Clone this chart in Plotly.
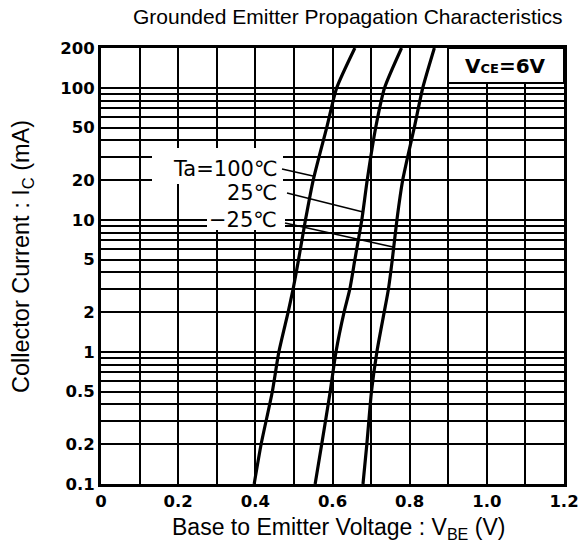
import plotly.graph_objects as go

# ---------------- data ----------------
title_text = "Grounded Emitter Propagation Characteristics"
x_title = "Base to Emitter Voltage : V<sub>BE</sub> (V)"
y_title = "Collector Current : I<sub>C</sub> (mA)"

ic_ma = [0.1, 0.2, 0.5, 1, 2, 3, 5, 10, 20, 50, 100, 200]
vbe_ta100 = [0.397, 0.415, 0.444, 0.461, 0.485, 0.498, 0.512, 0.530, 0.550, 0.585, 0.611, 0.658]
vbe_ta25 = [0.555, 0.572, 0.594, 0.609, 0.630, 0.645, 0.658, 0.676, 0.690, 0.712, 0.735, 0.779]
vbe_tam25 = [0.679, 0.689, 0.701, 0.715, 0.734, 0.745, 0.755, 0.767, 0.782, 0.812, 0.834, 0.864]

series_names = ["Ta=100℃", "25℃", "−25℃"]

x_tickvals = [0, 0.1, 0.2, 0.3, 0.4, 0.5, 0.6, 0.7, 0.8, 0.9, 1.0, 1.1, 1.2]
x_ticktext = ["0", "", "0.2", "", "0.4", "", "0.6", "", "0.8", "", "1.0", "", "1.2"]

y_tickvals = [0.1, 0.2, 0.3, 0.4, 0.5, 0.6, 0.7, 0.8, 0.9,
              1, 2, 3, 4, 5, 6, 7, 8, 9,
              10, 20, 30, 40, 50, 60, 70, 80, 90, 100, 200]
y_ticktext = ["0.1", "0.2", "", "", "0.5", "", "", "", "",
              "1", "2", "", "", "5", "", "", "", "",
              "10", "20", "", "", "50", "", "", "", "", "100", "200"]

condition_text = "V<span style='font-size:13px'>CE</span>=6V"

# ---------------- geometry helpers (pixel -> paper) ----------------
W, H = 580, 550
L, R, T, B = 101, 16, 48, 66
PW, PH = W - L - R, H - T - B


def px(x):
    return (x - L) / PW


def py(y):
    return (H - B - y) / PH


fig = go.Figure()
for v, name in zip([vbe_ta100, vbe_ta25, vbe_tam25], series_names):
    fig.add_trace(go.Scatter(x=v, y=ic_ma, mode="lines", name=name,
                             line=dict(color="black", width=3.2, shape="spline", smoothing=0.6),
                             showlegend=False))

shapes = []
# white boxes behind the temperature labels
for (x0, y0, x1, y1) in [(152, 148, 283, 184), (207, 184, 285, 230)]:
    shapes.append(dict(type="rect", xref="paper", yref="paper",
                       x0=px(x0), x1=px(x1), y0=py(y1), y1=py(y0),
                       fillcolor="white", line=dict(width=0), layer="above"))
# leader lines
for (x0, y0, x1, y1) in [(282, 169, 313, 176), (287, 193, 363, 212), (285, 223, 393, 247)]:
    shapes.append(dict(type="line", xref="paper", yref="paper",
                       x0=px(x0), y0=py(y0), x1=px(x1), y1=py(y1),
                       line=dict(color="black", width=1.6), layer="above"))
# VCE box
shapes.append(dict(type="rect", xref="paper", yref="paper",
                   x0=px(448), x1=px(564), y0=py(83), y1=py(48),
                   fillcolor="white", line=dict(color="black", width=2), layer="above"))

annotations = []
lab_font = dict(family="DejaVu Sans", size=21, color="black")
for text, (xr, yc) in zip(series_names, [(279, 169), (279, 193), (279, 220)]):
    annotations.append(dict(text=text, xref="paper", yref="paper", x=px(xr), y=py(yc),
                            xanchor="right", yanchor="middle", showarrow=False, font=lab_font))
annotations.append(dict(text=condition_text, xref="paper", yref="paper", x=px(505), y=py(66),
                        xanchor="center", yanchor="middle", showarrow=False,
                        font=dict(family="DejaVu Sans", size=20, color="black", weight="bold")))
annotations.append(dict(text=title_text, xref="paper", yref="paper", x=px(348), y=py(16),
                        xanchor="center", yanchor="middle", showarrow=False,
                        font=dict(family="Liberation Sans", size=21, color="black")))
annotations.append(dict(text=x_title, xref="paper", yref="paper", x=px(338), y=py(528),
                        xanchor="center", yanchor="middle", showarrow=False,
                        font=dict(family="Liberation Sans", size=23, color="black")))
annotations.append(dict(text=y_title, xref="paper", yref="paper", x=px(22), y=py(257),
                        xanchor="center", yanchor="middle", showarrow=False, textangle=-90,
                        font=dict(family="Liberation Sans", size=23.5, color="black")))

tick_font = dict(family="DejaVu Sans", size=16.5, color="black", weight="bold")
fig.update_layout(
    width=W, height=H,
    margin=dict(l=L, r=R, t=T, b=B, pad=0, autoexpand=False),
    paper_bgcolor="white", plot_bgcolor="white",
    shapes=shapes, annotations=annotations,
    xaxis=dict(range=[0, 1.2], tickvals=x_tickvals, ticktext=x_ticktext,
               showgrid=True, gridcolor="black", gridwidth=1.8,
               showline=True, linecolor="black", linewidth=3, mirror=True,
               ticks="", zeroline=False, automargin=False, tickfont=tick_font),
    yaxis=dict(type="log", range=[-1, 2.30103], tickvals=y_tickvals, ticktext=y_ticktext,
               showgrid=True, gridcolor="black", gridwidth=1.8,
               showline=True, linecolor="black", linewidth=3, mirror=True,
               ticks="", zeroline=False, automargin=False, tickfont=tick_font),
)

fig.write_html("out.html")
